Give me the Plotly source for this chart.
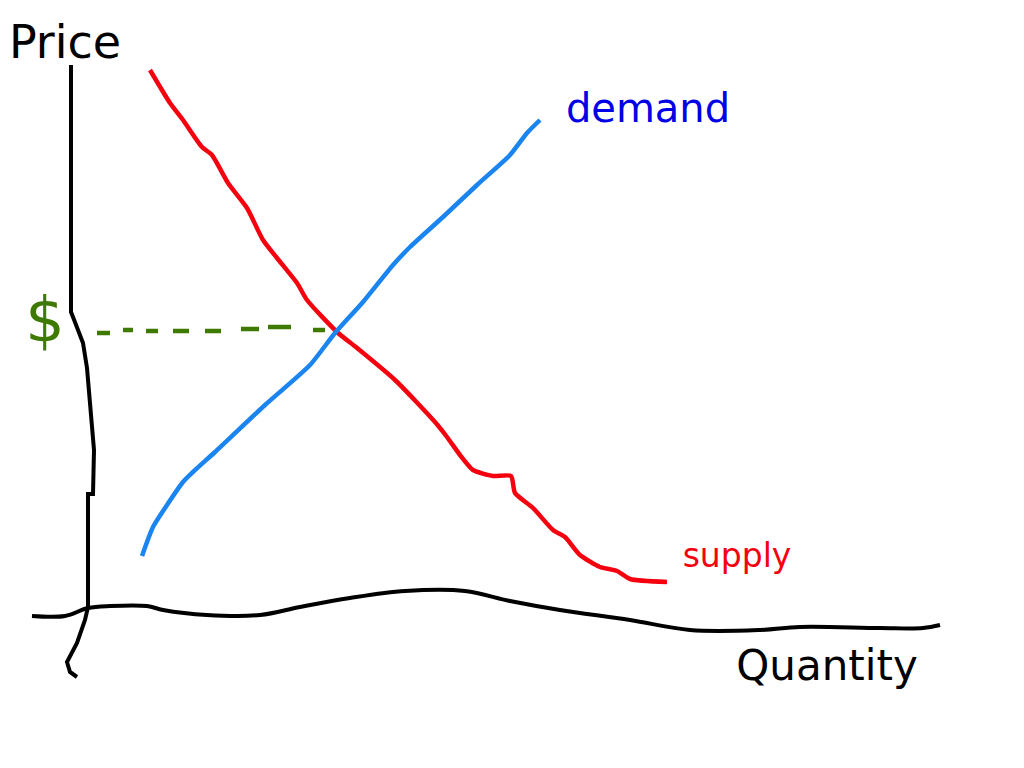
import plotly.graph_objects as go

# sketch is measured in picture units, y grows downwards
price_axis_x = [71, 71, 71, 73, 83, 87, 92, 94, 93, 88, 88, 85, 77, 67, 70, 77]
price_axis_y = [65, 150, 312, 317, 343, 368, 420, 450, 494, 494, 607, 620, 643, 662, 672, 677]

quantity_axis_x = [32, 65, 88, 110, 147, 163, 207, 260, 300, 350, 405, 465, 510, 560, 630, 690, 760, 800, 880, 923, 940]
quantity_axis_y = [616, 616, 608, 606, 606, 610, 615, 615, 607, 598, 591, 591, 601, 610, 620, 630, 630, 627, 628, 628, 625]

supply_x = [150, 170, 183, 202, 212, 228, 247, 263, 277, 297, 307, 337, 357, 395, 435, 447, 460, 473, 493, 511, 515, 533, 553, 565, 580, 600, 617, 630, 667]
supply_y = [70, 103, 120, 147, 155, 183, 208, 240, 258, 283, 300, 332, 348, 380, 422, 437, 455, 470, 476, 476, 493, 508, 530, 537, 555, 567, 571, 579, 582]

demand_x = [142, 153, 167, 183, 193, 215, 265, 310, 335, 363, 393, 410, 443, 477, 510, 527, 540]
demand_y = [556, 527, 505, 482, 472, 452, 405, 365, 333, 302, 265, 247, 217, 185, 155, 133, 120]

# dashes were drawn by hand, None splits them
price_dash_x = [97, 110, None, 123, 133, None, 146, 158, None, 173, 189, None, 205, 221, None, 241, 259, None, 268, 291, None, 313, 325]
price_dash_y = [333, 333, None, 330, 330, None, 331, 331, None, 331, 331, None, 331, 331, None, 329, 329, None, 327, 327, None, 330, 330]

labels = ["Price", "demand", "supply", "Quantity", "$"]
label_x = [65, 648, 737, 827, 45]
label_y = [46, 112, 559, 669, 325]
label_colors = ["#000000", "#0000e6", "#f5000f", "#000000", "#3f7a00"]
label_sizes = [46, 40, 33, 42, 62]

fig = go.Figure()
fig.add_trace(go.Scatter(x=price_axis_x, y=price_axis_y, mode="lines", line=dict(color="#000000", width=4)))
fig.add_trace(go.Scatter(x=quantity_axis_x, y=quantity_axis_y, mode="lines", line=dict(color="#000000", width=4, shape="spline")))
fig.add_trace(go.Scatter(x=price_dash_x, y=price_dash_y, mode="lines", line=dict(color="#3f7a00", width=4.5)))
fig.add_trace(go.Scatter(x=supply_x, y=supply_y, mode="lines", line=dict(color="#f5000f", width=4.5, shape="spline", smoothing=0.6)))
fig.add_trace(go.Scatter(x=demand_x, y=demand_y, mode="lines", line=dict(color="#1a84f0", width=4.5, shape="spline", smoothing=0.6)))
for i in range(len(labels)):
    fig.add_trace(go.Scatter(x=[label_x[i]], y=[label_y[i]], mode="text", text=[labels[i]],
                             textfont=dict(family="DejaVu Sans", size=label_sizes[i], color=label_colors[i]),
                             textposition="middle center"))

fig.update_layout(
    width=1024, height=768,
    margin=dict(l=0, r=0, t=0, b=0),
    showlegend=False,
    paper_bgcolor="white", plot_bgcolor="white",
    xaxis=dict(range=[0, 1024], visible=False),
    yaxis=dict(range=[768, 0], visible=False),
)
# the page's default body margin would push the plot 8px off
fig.write_html("out.html", post_script="document.body.style.margin='0';", config=dict(displayModeBar=False))
